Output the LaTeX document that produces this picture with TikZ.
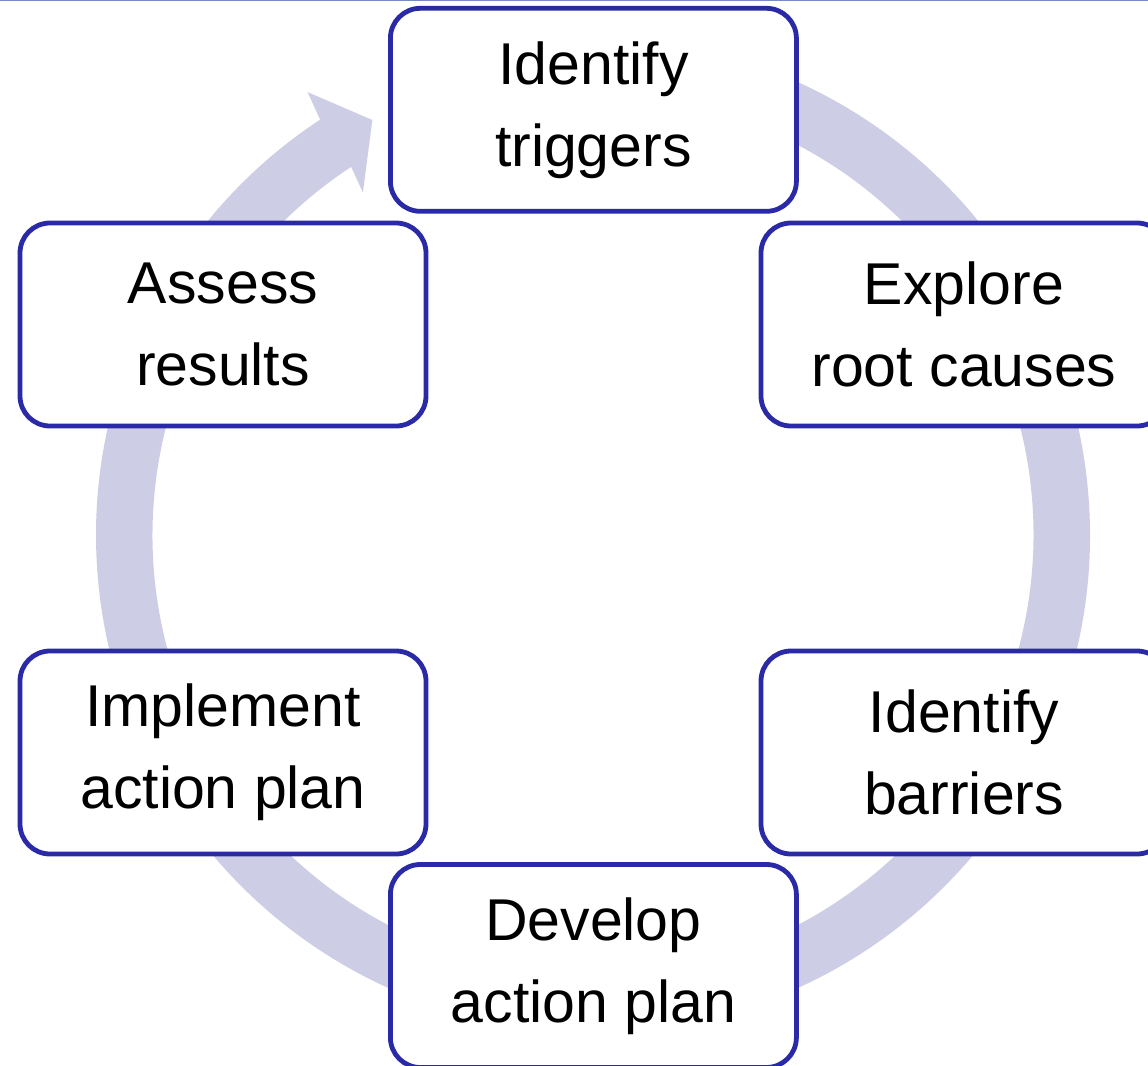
\documentclass[tikz,border=0pt]{standalone}
\usepackage{fontspec}
\setmainfont{Liberation Sans}
\usepackage{tikz}
\usetikzlibrary{positioning}
\definecolor{boxblue}{RGB}{42,42,166}
\definecolor{ringblue}{RGB}{205,205,230}
\definecolor{topblue}{RGB}{120,140,195}

\begin{document}
\begin{tikzpicture}[
    x=0.5pt, y=0.5pt,
    every node/.style={align=center, font=\fontsize{29.5pt}{41pt}\selectfont},
    ring/.style={fill=ringblue, draw=none},
    topline/.style={draw=topblue, line width=0.5pt},
    process/.style={rectangle, draw=boxblue, line width=2.4pt, rounded corners=15pt, minimum width=203pt, minimum height=101.5pt, text centered, fill=white}
]
\useasboundingbox (0,0) rectangle (1148,-1066);
\draw[topline] (0,-0.5) -- (1148,-0.5);

\fill[ring, shift={(593,-535)}] (95:497) arc[start angle=95, end angle=-236.7, radius=248.5pt]
    -- (122.8:527) -- (118:470) -- (123.9:412.6) -- (-236.7:440.5)
    arc[start angle=-236.7, end angle=95, radius=220.25pt] -- cycle;

\node[process] (IT) at (593.4,-109.8) {Identify\\triggers};
\node[process] (ERC) at (964,-324.5) {Explore\\root causes};
\node[process] (IB) at (964,-752.5) {Identify\\barriers};
\node[process] (DAP) at (593.4,-966) {Develop\\action plan};
\node[process] (IAP) at (223,-752.5) {Implement\\action plan};
\node[process] (AR) at (223,-324.5) {Assess\\results};
\end{tikzpicture}
\end{document}
